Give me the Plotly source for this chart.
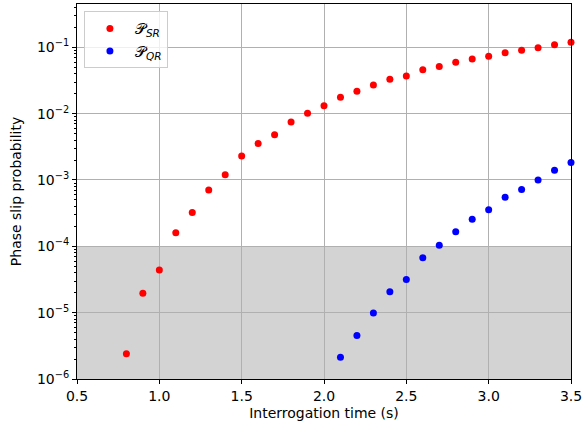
import numpy as np
import plotly.graph_objects as go

# Data
t_sr = [0.8, 0.9, 1.0, 1.1, 1.2, 1.3, 1.4, 1.5, 1.6, 1.7, 1.8, 1.9, 2.0, 2.1, 2.2, 2.3,
        2.4, 2.5, 2.6, 2.7, 2.8, 2.9, 3.0, 3.1, 3.2, 3.3, 3.4, 3.5]
p_sr = [2.4e-6, 1.97e-5, 4.4e-5, 1.6e-4, 3.24e-4, 7.05e-4, 1.2e-3, 2.29e-3, 3.56e-3,
        4.81e-3, 7.5e-3, 1.01e-2, 1.31e-2, 1.76e-2, 2.17e-2, 2.7e-2, 3.29e-2, 3.69e-2,
        4.59e-2, 5.16e-2, 5.94e-2, 6.66e-2, 7.32e-2, 8.29e-2, 9.0e-2, 9.86e-2, 0.109, 0.119]

t_qr = [2.1, 2.2, 2.3, 2.4, 2.5, 2.6, 2.7, 2.8, 2.9, 3.0, 3.1, 3.2, 3.3, 3.4, 3.5]
p_qr = [2.13e-6, 4.53e-6, 9.9e-6, 2.06e-5, 3.17e-5, 6.7e-5, 1.04e-4, 1.66e-4, 2.55e-4,
        3.56e-4, 5.5e-4, 7.2e-4, 1.0e-3, 1.40e-3, 1.84e-3]

threshold = 1e-4
x_ticks = [0.5, 1.0, 1.5, 2.0, 2.5, 3.0, 3.5]
y_exps = [-6, -5, -4, -3, -2, -1]

font = "DejaVu Sans"
fig = go.Figure()
fig.add_trace(go.Scatter(x=t_sr, y=p_sr, mode="markers", name="𝒫<sub><i>SR</i></sub>",
                         marker=dict(color="#ff0000", size=7), cliponaxis=False))
fig.add_trace(go.Scatter(x=t_qr, y=p_qr, mode="markers", name="𝒫<sub><i>QR</i></sub>",
                         marker=dict(color="#0000ff", size=7), cliponaxis=False))

fig.add_shape(type="rect", xref="x", yref="y", x0=0.5, x1=3.5, y0=1e-6, y1=threshold,
              fillcolor="#d3d3d3", line=dict(width=0), layer="below")

minor_vals = [m * 10.0 ** e for e in range(-7, 0) for m in range(2, 10)]
fig.update_layout(
    width=582, height=430,
    margin=dict(l=77, r=11, t=4, b=51),
    paper_bgcolor="white", plot_bgcolor="rgba(0,0,0,0)",
    font=dict(family=font, size=14, color="black"),
    showlegend=True,
    legend=dict(x=0.014, y=0.981, xanchor="left", yanchor="top",
                bgcolor="rgba(255,255,255,0.8)", bordercolor="#cccccc", borderwidth=1,
                font=dict(family=font, size=15), itemwidth=40, tracegroupgap=0),
)
fig.update_xaxes(range=[0.5, 3.5], tickvals=x_ticks,
                 ticktext=[f"{v:.1f}" for v in x_ticks],
                 tickfont=dict(family=font, size=14), ticklabeloverflow="allow",
                 showgrid=True, gridcolor="#b0b0b0", gridwidth=0.8,
                 showline=True, linecolor="black", linewidth=1, mirror=True,
                 ticks="outside", ticklen=4, tickcolor="black", automargin=False,
                 title=dict(text="Interrogation time (s)", standoff=5,
                            font=dict(family=font, size=14)), zeroline=False)
fig.update_yaxes(type="log", range=[-6, -0.347],
                 tickvals=[10.0 ** e for e in y_exps],
                 ticktext=[f"10<sup>\u2212{-e}</sup>" for e in y_exps],
                 tickfont=dict(family=font, size=14), ticklabeloverflow="allow",
                 showgrid=True, gridcolor="#b0b0b0", gridwidth=0.8,
                 showline=True, linecolor="black", linewidth=1, mirror=True,
                 ticks="outside", ticklen=4, tickcolor="black", automargin=False,
                 minor=dict(tickvals=minor_vals, ticks="outside", ticklen=2,
                            tickcolor="black", showgrid=False),
                 title=dict(text="Phase slip probability", standoff=12,
                            font=dict(family=font, size=14)), zeroline=False)

fig.write_html("out.html", config={"displayModeBar": False},
               post_script="document.body.style.margin='0';")
